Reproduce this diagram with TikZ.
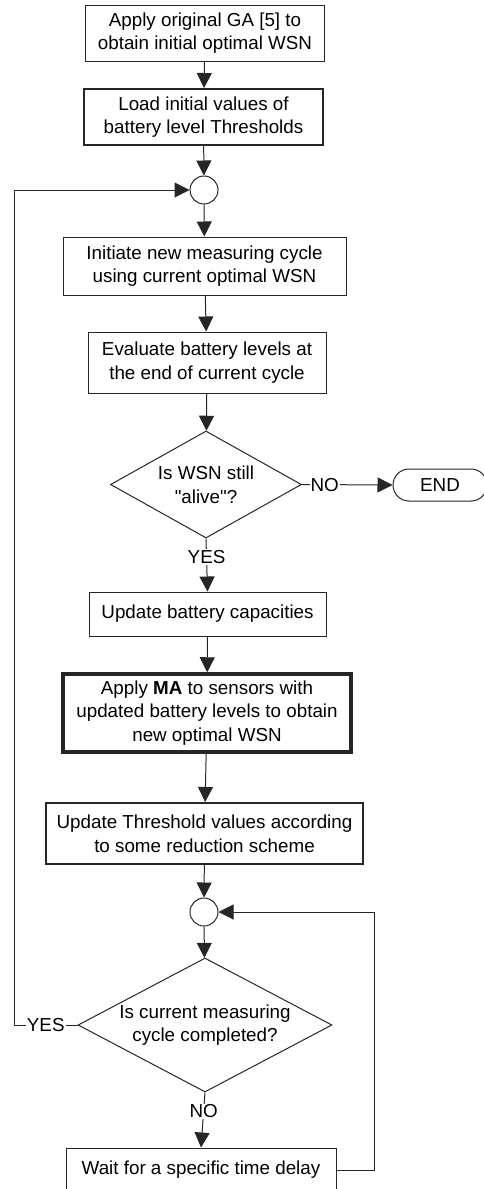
\documentclass[tikz,border=0pt]{standalone}
\usepackage{fontspec}
\setmainfont{Liberation Sans}[Ligatures=TeXOff]
\usetikzlibrary{shapes.geometric,arrows.meta}
\tikzset{
  procbox/.style={draw=black!85, line width=1pt, rectangle, align=center, inner sep=0pt},
  decision/.style={draw=black!85, line width=1pt, diamond, align=center, inner sep=0pt, aspect=1.9},
  junction/.style={draw=black!85, line width=1pt, circle, minimum size=28pt, inner sep=0pt},
  flow/.style={draw=black!85, line width=1pt, -{Triangle[length=15pt,width=15pt]}},
  lbl/.style={fill=white, inner sep=1pt}
}
\begin{document}
\begin{tikzpicture}[x=1pt, y=-1pt, font=\fontsize{18.8}{23.6}\selectfont]
  \useasboundingbox (0,0) rectangle (484,1189);

  % main column
  \node[procbox, minimum width=239pt, minimum height=56pt] (init) at (205,33)
    {Apply original GA [5] to\\obtain initial optimal WSN};
  \node[procbox, line width=2pt, minimum width=239pt, minimum height=56pt] (load) at (203.5,117)
    {Load initial values of\\battery level Thresholds};
  \node[junction] (join1) at (204,190) {};
  \node[procbox, minimum width=283pt, minimum height=58pt] (cycle) at (204.5,266)
    {Initiate new measuring cycle\\using current optimal WSN};
  \node[procbox, minimum width=238pt, minimum height=61pt] (eval) at (207,362.5)
    {Evaluate battery levels at\\the end of current cycle};
  \node[decision, minimum width=191pt, minimum height=107pt] (alive) at (206,484.5)
    {Is WSN still\\"alive"?};
  \node[procbox, rounded corners=16pt, minimum width=94pt, minimum height=32pt] (stop) at (440,485) {END};
  \node[procbox, minimum width=237pt, minimum height=44pt] (capac) at (207.5,614)
    {Update battery capacities};
  \node[procbox, line width=3.5pt, minimum width=288pt, minimum height=78pt] (apply) at (207,713)
    {Apply \textbf{MA} to sensors with\\updated battery levels to obtain\\new optimal WSN};
  \node[procbox, line width=2pt, minimum width=317pt, minimum height=61pt] (thresh) at (204.5,833.5)
    {Update Threshold values according\\to some reduction scheme};
  \node[junction] (join2) at (204,912) {};
  \node[decision, minimum width=254pt, minimum height=134pt] (done) at (205,1025)
    {Is current measuring\\cycle completed?};
  \node[procbox, minimum width=270pt, minimum height=44pt] (wait) at (201,1170)
    {Wait for a specific time delay};

  % loop corners
  \coordinate (yesturn) at (14,1025);
  \coordinate (waitturn) at (374,1170);

  % connectors
  \draw[flow] (init) -- (load);
  \draw[flow] (load) -- (join1);
  \draw[flow] (join1) -- (cycle);
  \draw[flow] (cycle) -- (eval);
  \draw[flow] (eval) -- (alive);
  \draw[flow] (alive.east) -- node[lbl, pos=0.25] {NO} (stop.west);
  \draw[flow] (alive.south) -- node[lbl, pos=0.35] {YES} (capac.north);
  \draw[flow] (capac) -- (apply);
  \draw[flow] (apply) -- (thresh);
  \draw[flow] (thresh) -- (join2);
  \draw[flow] (join2) -- (done);
  \draw[flow] (done.south) -- node[lbl, pos=0.34] {NO} (wait.north);
  \draw[flow] (done.west) -- node[lbl] {YES} (yesturn) |- (join1.west);
  \draw[flow] (wait.east) -- (waitturn) |- (join2.east);
\end{tikzpicture}
\end{document}
